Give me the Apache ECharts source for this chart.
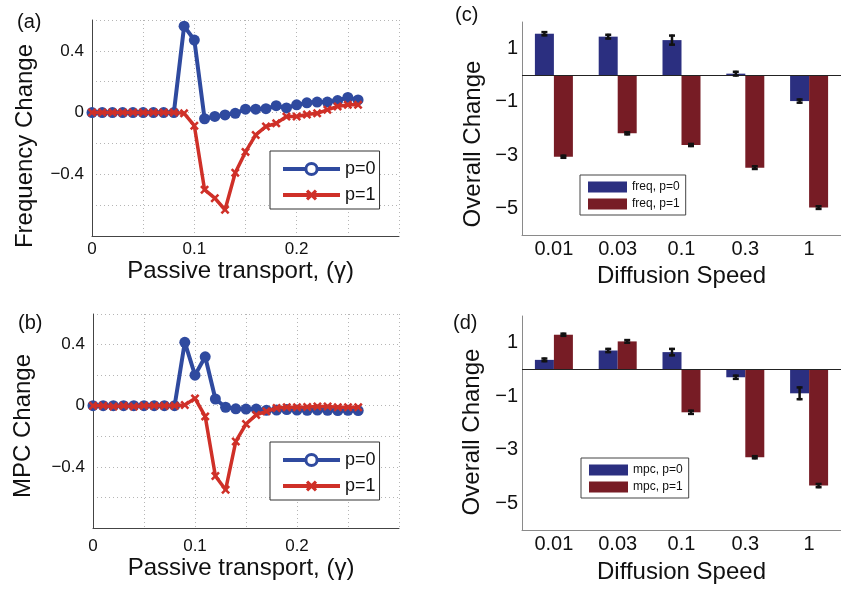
<!DOCTYPE html>
<html>
<head>
<meta charset="utf-8">
<script src="https://cdn.jsdelivr.net/npm/echarts@6/dist/echarts.min.js"></script>
<style>html,body{margin:0;padding:0;background:#fff}#c{width:841px;height:589px}</style>
</head>
<body>
<div id="c"></div>
<script>
// ---------- data ----------
const gammaX = [0,0.01,0.02,0.03,0.04,0.05,0.06,0.07,0.08,0.09,0.10,0.11,0.12,0.13,0.14,0.15,0.16,0.17,0.18,0.19,0.20,0.21,0.22,0.23,0.24,0.25,0.26];
const freqP0 = [0,0,0,0,0,0,0,0,0,0.56,0.47,-0.04,-0.025,-0.015,-0.005,0.022,0.022,0.025,0.045,0.03,0.05,0.063,0.068,0.068,0.078,0.098,0.082];
const freqP1 = [0,0,0,0,0,0,0,0,0,-0.005,-0.085,-0.5,-0.555,-0.63,-0.39,-0.255,-0.145,-0.09,-0.07,-0.026,-0.025,-0.013,-0.005,0.018,0.04,0.05,0.05];
const mpcP0  = [0,0,0,0,0,0,0,0,0,0.415,0.2,0.32,0.044,-0.01,-0.02,-0.022,-0.022,-0.03,-0.028,-0.025,-0.028,-0.03,-0.028,-0.03,-0.032,-0.03,-0.032];
const mpcP1  = [0,0,-0.005,0,-0.005,0,0,0,0,0.005,0.048,-0.07,-0.46,-0.55,-0.234,-0.12,-0.06,-0.037,-0.015,-0.01,-0.01,-0.008,-0.005,-0.005,-0.01,-0.01,-0.01];

const speeds = ['0.01','0.03','0.1','0.3','1'];
const freqBarP0 = [1.56,1.45,1.32,0.06,-0.97];
const freqErrP0 = [0.06,0.07,0.17,0.07,0.06];
const freqBarP1 = [-3.06,-2.18,-2.62,-3.47,-4.97];
const freqErrP1 = [0.04,0.04,0.04,0.05,0.05];
const mpcBarP0 = [0.36,0.71,0.65,-0.29,-0.89];
const mpcErrP0 = [0.05,0.06,0.12,0.06,0.22];
const mpcBarP1 = [1.3,1.05,-1.6,-3.28,-4.34];
const mpcErrP1 = [0.04,0.05,0.06,0.04,0.06];

// ---------- styles ----------
const FONT = 'Liberation Sans, Arial, Helvetica, sans-serif';
const BLUE = '#2f4a9f', RED = '#cf3028', BAR_BLUE = '#2b2f80', BAR_RED = '#771c25';
const XPATH = 'path://M2,0 L5,3 L8,0 L10,2 L7,5 L10,8 L8,10 L5,7 L2,10 L0,8 L3,5 L0,2 Z';
const MINUS = '\u2212';

const chart = echarts.init(document.getElementById('c'), null, {renderer:'canvas'});

function lineX(gi, gap, lmargin){
  return {type:'value', gridIndex:gi, min:0, max:0.3, interval:0.05,
    axisLine:{show:true, onZero:false, lineStyle:{color:'#444', width:1}},
    axisTick:{show:false},
    axisLabel:{color:'#111', fontSize:17, fontFamily:FONT, margin:lmargin,
      formatter:v=>{const n=Math.round(v*100); if(n===0) return '0'; if(n===10) return '0.1'; if(n===20) return '0.2'; return '';}},
    splitLine:{show:true, lineStyle:{color:'#b5b5b5', type:[1,3], width:1}},
    name:'Passive transport, (\u03b3)', nameLocation:'middle', nameGap:gap,
    nameTextStyle:{fontSize:24, fontFamily:FONT, color:'#111', padding:[0,10,0,0]}};
}
function lineY(gi, name, gap, shift){
  return {type:'value', gridIndex:gi, min:-0.8, max:0.6, interval:0.2,
    axisLine:{show:true, onZero:false, lineStyle:{color:'#444', width:1}},
    axisTick:{show:false},
    axisLabel:{color:'#111', fontSize:17, fontFamily:FONT, margin:8,
      formatter:v=>{const n=Math.round(v*10); if(n===4) return '0.4'; if(n===0) return '0'; if(n===-4) return MINUS+'0.4'; return '';}},
    splitLine:{show:true, lineStyle:{color:'#b5b5b5', type:[1,3], width:1}},
    name:name, nameLocation:'middle', nameGap:gap,
    nameTextStyle:{fontSize:24, fontFamily:FONT, color:'#111', padding:[0,shift,0,0]}};
}
function barX(gi, gap){
  return {type:'category', gridIndex:gi, data:speeds,
    axisLine:{show:true, onZero:false, lineStyle:{color:'#8a8a8a', width:1}},
    axisTick:{show:false},
    axisLabel:{color:'#111', fontSize:20, fontFamily:FONT, margin:4},
    splitLine:{show:false},
    name:'Diffusion Speed', nameLocation:'middle', nameGap:gap,
    nameTextStyle:{fontSize:24, fontFamily:FONT, color:'#111'}};
}
function barY(gi, gap, shift){
  return {type:'value', gridIndex:gi, min:-6, max:2, interval:1,
    axisLine:{show:true, onZero:false, lineStyle:{color:'#8a8a8a', width:1}},
    axisTick:{show:false},
    axisLabel:{color:'#111', fontSize:20, fontFamily:FONT, margin:4,
      formatter:v=>{const n=Math.round(v); if(Math.abs(n)%2===1) return (n<0?MINUS:'')+Math.abs(n); return '';}},
    splitLine:{show:false},
    name:'Overall Change', nameLocation:'middle', nameGap:gap,
    nameTextStyle:{fontSize:24, fontFamily:FONT, color:'#111', padding:[0,shift,0,0]}};
}

function lineSeries(name, xi, vals, color, isX){
  return {type:'line', name:name, xAxisIndex:xi, yAxisIndex:xi,
    data:gammaX.map((x,i)=>[x, vals[i]]),
    symbol: isX ? XPATH : 'circle', symbolSize: isX ? 9 : 11,
    lineStyle:{color:color, width: isX ? 3.5 : 4},
    itemStyle:{color:color},
    z: isX ? 3 : 2};
}
function barSeries(name, xi, vals, color, zeroLine){
  const s = {type:'bar', name:name, xAxisIndex:xi, yAxisIndex:xi, data:vals,
    barWidth:19, barGap:'0%', itemStyle:{color:color}};
  if(zeroLine){
    s.markLine = {silent:true, symbol:'none', label:{show:false},
      lineStyle:{color:'#222', width:1, type:'solid'}, data:[{yAxis:0}]};
  }
  return s;
}
function errSeries(xi, vals, errs, offset){
  return {type:'custom', xAxisIndex:xi, yAxisIndex:xi, silent:true, z:10,
    data:vals.map((v,i)=>[i, v, errs[i]]),
    encode:{x:0, y:1},
    renderItem:(p, api)=>{
      const i=api.value(0), v=api.value(1), e=api.value(2);
      const top=api.coord([i, v+e]), bot=api.coord([i, v-e]);
      const x=top[0]+offset, hw=3;
      const st={stroke:'#111', lineWidth:2.5};
      return {type:'group', children:[
        {type:'line', shape:{x1:x, y1:top[1]-1, x2:x, y2:bot[1]+1}, style:st},
        {type:'line', shape:{x1:x-hw, y1:top[1], x2:x+hw, y2:top[1]}, style:st},
        {type:'line', shape:{x1:x-hw, y1:bot[1], x2:x+hw, y2:bot[1]}, style:st}
      ]};
    }};
}
function lineLegend(top, names){
  return {orient:'vertical', left:270, top:top, padding:[9,4,5,11], itemGap:8,
    itemWidth:57, itemHeight:14, backgroundColor:'#fff', borderColor:'#333', borderWidth:1, borderRadius:0,
    textStyle:{fontSize:18, fontFamily:FONT, color:'#111', padding:[0,0,0,0]},
    formatter:n=>n.slice(4),
    data:[{name:names[0], itemStyle:{color:'#fff', borderColor:BLUE, borderWidth:3}, lineStyle:{width:4}},
          {name:names[1], lineStyle:{width:4}}]};
}
function barLegend(left, top, names){
  return {orient:'vertical', left:left, top:top, padding:[6,6,5,8], itemGap:5,
    itemWidth:39, itemHeight:11, icon:'rect', backgroundColor:'#fff', borderColor:'#444', borderWidth:1, borderRadius:0,
    textStyle:{fontSize:12, fontFamily:FONT, color:'#111'},
    data:names};
}

const option = {
  animation:false,
  backgroundColor:'#fff',
  grid:[
    {left:92, top:20, width:307, height:216},
    {left:93, top:314, width:306, height:214},
    {left:522, top:22, width:327, height:213},
    {left:522, top:316, width:327, height:214}
  ],
  xAxis:[lineX(0, 21, 5), lineX(1, 28, 10), barX(2, 29), barX(3, 30)],
  yAxis:[lineY(0, 'Frequency Change', 55, 36), lineY(1, 'MPC Change', 58, 10), barY(2, 37, 31), barY(3, 38, 18)],
  legend:[
    lineLegend(151, ['(a) p=0','(a) p=1']),
    lineLegend(442, ['(b) p=0','(b) p=1']),
    barLegend(580, 175, ['freq, p=0','freq, p=1']),
    barLegend(581, 458, ['mpc, p=0','mpc, p=1'])
  ],
  series:[
    lineSeries('(a) p=0', 0, freqP0, BLUE, false),
    lineSeries('(a) p=1', 0, freqP1, RED, true),
    lineSeries('(b) p=0', 1, mpcP0, BLUE, false),
    lineSeries('(b) p=1', 1, mpcP1, RED, true),
    barSeries('freq, p=0', 2, freqBarP0, BAR_BLUE, true),
    barSeries('freq, p=1', 2, freqBarP1, BAR_RED, false),
    barSeries('mpc, p=0', 3, mpcBarP0, BAR_BLUE, true),
    barSeries('mpc, p=1', 3, mpcBarP1, BAR_RED, false),
    errSeries(2, freqBarP0, freqErrP0, -9.5),
    errSeries(2, freqBarP1, freqErrP1, 9.5),
    errSeries(3, mpcBarP0, mpcErrP0, -9.5),
    errSeries(3, mpcBarP1, mpcErrP1, 9.5)
  ],
  graphic:[
    {type:'text', style:{text:'(a)', x:17, y:22, verticalAlign:'middle', font:'20px '+FONT, fill:'#111'}},
    {type:'text', style:{text:'(b)', x:18, y:323, verticalAlign:'middle', font:'20px '+FONT, fill:'#111'}},
    {type:'text', style:{text:'(c)', x:455, y:15, verticalAlign:'middle', font:'20px '+FONT, fill:'#111'}},
    {type:'text', style:{text:'(d)', x:453, y:323, verticalAlign:'middle', font:'20px '+FONT, fill:'#111'}}
  ]
};
chart.setOption(option);
</script>
</body>
</html>
